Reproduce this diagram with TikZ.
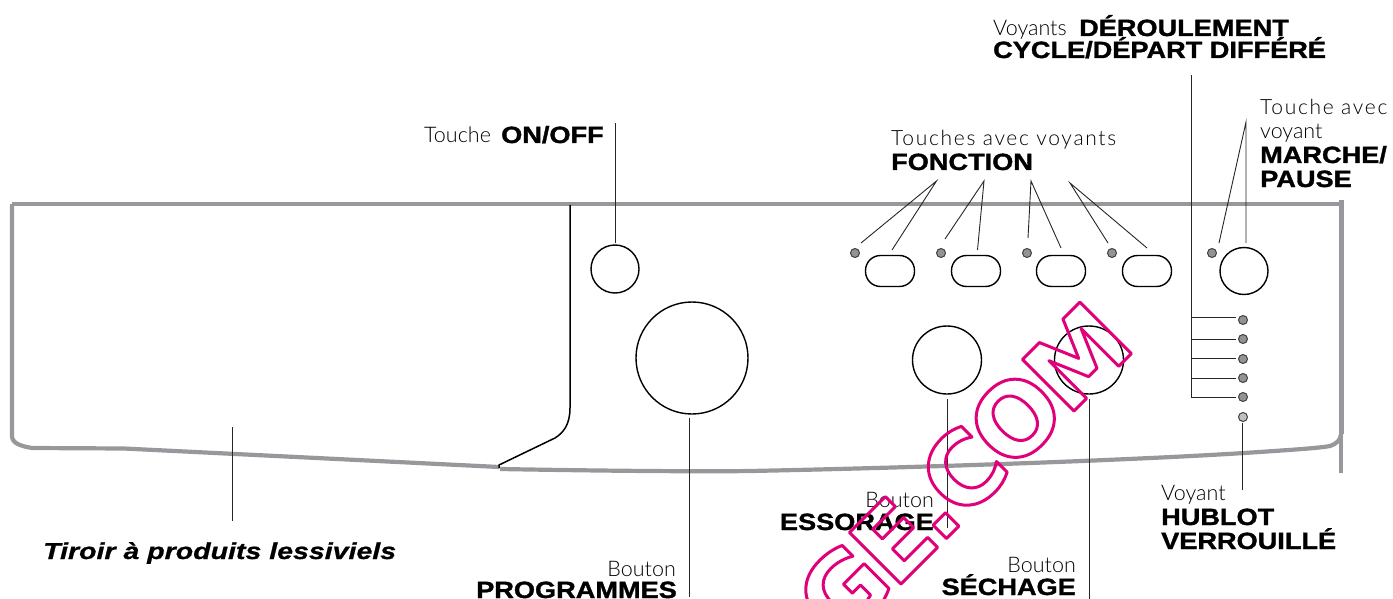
\documentclass[tikz,border=0pt]{standalone}
\usepackage{fontspec}
\usetikzlibrary{shapes.geometric}
\setmainfont{Liberation Sans}
\newfontfamily\lightf{Lato Light}
\newfontfamily\lightsf[LetterSpace=8]{Lato Light}
\newfontfamily\blackf[FakeBold=1.4,FakeStretch=1.155]{Liberation Sans Bold}
\newfontfamily\blackif[FakeBold=0.9,FakeStretch=1.24]{Liberation Sans Bold Italic}
\newfontfamily\markf[LetterSpace=-5]{DejaVu Sans Bold}
\definecolor{framegray}{HTML}{98989C}
\definecolor{ledgray}{HTML}{939393}
\definecolor{markpink}{HTML}{E0007A}
\newcommand{\lt}[1]{{\lightf\fontsize{21.5}{21.5}\selectfont #1}}
\newcommand{\lts}[1]{{\lightsf\fontsize{21}{21}\selectfont #1}}
\newcommand{\bk}[1]{{\blackf\fontsize{23.5}{23.5}\selectfont #1}}
\tikzset{
  frameline/.style={draw=framegray,line width=4.2pt,line join=round},
  thinline/.style={draw=black!85,line width=0.9pt},
  blackline/.style={draw=black,line width=1.5pt},
  knob/.style={ellipse,draw=black,line width=1.4pt,inner sep=0pt},
  pill/.style={rectangle,rounded corners=15pt,draw=black,line width=1.4pt,minimum width=49pt,minimum height=31pt,inner sep=0pt},
  led/.style={circle,draw=black!75,fill=ledgray,line width=1pt,minimum size=9pt,inner sep=0pt},
  lbl/.style={inner sep=0pt,anchor=base west},
  lblr/.style={inner sep=0pt,anchor=base east},
}
\begin{document}
\begin{tikzpicture}[x=1pt,y=-1pt]
\useasboundingbox (0,0) rectangle (1393,599);
% frame
\draw[frameline] (12,204) -- (1339,204);
\draw[frameline] (12,204) -- (12,436) .. controls (12,443) and (20,446) .. (32,448) -- (124,448.5) -- (499,467);
\draw[frameline] (500,469) .. controls (640,471.5) and (720,471.5) .. (750,471) .. controls (950,467) and (1150,459) .. (1244,453) .. controls (1290,450) and (1320,448) .. (1330,446) .. controls (1336,444) and (1341,440) .. (1341,434);
\draw[draw=framegray,line width=5pt] (1341.5,200) -- (1341.5,434);
\draw[draw=framegray,line width=3.5pt] (1341,434) -- (1341,473);
\draw[blackline] (570,205) -- (570,408) .. controls (570,425) and (563,433) .. (555,438) -- (499,465) -- (499,468);
% knobs
\node[knob,minimum width=48pt,minimum height=48pt] (onoff) at (615,269) {};
\node[knob,minimum width=112pt,minimum height=112pt] (prog) at (692,358) {};
\node[knob,minimum width=69pt,minimum height=68pt] (ess) at (947,360) {};
\node[knob,minimum width=69pt,minimum height=68pt] (sech) at (1089,360) {};
\node[knob,minimum width=48pt,minimum height=47pt] (march) at (1244,271) {};
\node[pill] (p1) at (890,271) {};
\node[pill] (p2) at (976,271) {};
\node[pill] (p3) at (1061,271) {};
\node[pill] (p4) at (1147,271) {};
\node[led] (l1) at (855,253) {};
\node[led] (l2) at (941,253) {};
\node[led] (l3) at (1027,253) {};
\node[led] (l4) at (1112,253) {};
\node[led] (l5) at (1212,253) {};
\node[led] (c1) at (1243,320) {};
\node[led] (c2) at (1243,339) {};
\node[led] (c3) at (1243,359) {};
\node[led] (c4) at (1243,378) {};
\node[led] (c5) at (1243,397) {};
\node[led,fill=black!25] (c6) at (1243,417) {};
% leaders
\coordinate (onT) at (615,123); \coordinate (onB) at (615,243);
\draw[thinline] (onT) -- (onB);
\draw[thinline] (232,427) coordinate (tirT) -- (232,521) coordinate (tirB);
\draw[thinline] (689,418) coordinate (prT) -- (689,597) coordinate (prB);
\draw[thinline] (947,399) coordinate (esT) -- (947,528) coordinate (esB);
\draw[thinline] (1089,399) coordinate (seT) -- (1089,599) coordinate (seB);
\draw[thinline] (1242,423) coordinate (huT) -- (1242,490) coordinate (huB);
\draw[thinline] (1191,75) coordinate (deT) -- (1191,398) coordinate (deB);
\draw[thinline] (1191,317) -- (1236,317);
\draw[thinline] (1191,339) -- (1236,339);
\draw[thinline] (1191,358) -- (1236,358);
\draw[thinline] (1191,378) -- (1236,378);
\draw[thinline] (1191,397) -- (1236,397);
\coordinate (f1) at (936.5,181); \coordinate (f2) at (984,181); \coordinate (f3) at (1031,181); \coordinate (f4) at (1070,183);
\draw[thinline] (861,243) -- (f1) -- (892,250);
\draw[thinline] (945,239) -- (f2) -- (977.5,250);
\draw[thinline] (1028,238) -- (f3) -- (1061,248);
\draw[thinline] (1108,243) -- (f4) -- (1147,248);
\coordinate (m1) at (1246,122);
\draw[thinline] (1219,243) -- (m1) -- (1246,243);
% labels
\node[lbl] (t1) at (993,36) {\lt{Voyants}};
\node[lbl] (t2) at (1079,36) {\bk{DÉROULEMENT}};
\node[lbl] (t3) at (993,58) {\bk{CYCLE/DÉPART DIFFÉRÉ}};
\node[lbl] (t4) at (1260,115) {\lts{Touche avec}};
\node[lbl] (t5) at (1260,139) {\lt{voyant}};
\node[lbl] (t6) at (1260,163) {\bk{MARCHE/}};
\node[lbl] (t7) at (1260,187) {\bk{PAUSE}};
\node[lbl] (t8) at (891,146) {\lts{Touches avec voyants}};
\node[lbl] (t9) at (891,170) {\bk{FONCTION}};
\node[lbl] (t10) at (424,143) {\lt{Touche}};
\node[lbl] (t11) at (501,143) {\bk{ON/OFF}};
\node[lbl] (t12) at (43,559) {{\blackif\fontsize{23}{23}\selectfont Tiroir à produits lessiviels}};
\node[lblr] (t13) at (676,576) {\lt{Bouton}};
\node[lblr] (t14) at (677,598) {\bk{PROGRAMMES}};
\node[lblr] (t15) at (934,507) {\lt{Bouton}};
\node[lblr] (t16) at (934,530) {\bk{ESSORAGE}};
\node[lblr] (t17) at (1076,572) {\lt{Bouton}};
\node[lblr] (t18) at (1076,595) {\bk{SÉCHAGE}};
\node[lbl] (t19) at (1161,500) {\lt{Voyant}};
\node[lbl] (t20) at (1161,525) {\bk{HUBLOT}};
\node[lbl] (t21) at (1161,549) {\bk{VERROUILLÉ}};
% watermark
\begin{scope}
\clip (0,0) rectangle (1393,599);
\node[inner sep=0pt,anchor=base east,rotate=45,text=markpink] (wm) at (1138,347)
 {\special{pdf:literal direct 1 Tr 3 w 1 j}\markf\fontsize{100}{100}\selectfont AGE.COM\special{pdf:literal direct 0 Tr}};
\end{scope}
\end{tikzpicture}
\end{document}
